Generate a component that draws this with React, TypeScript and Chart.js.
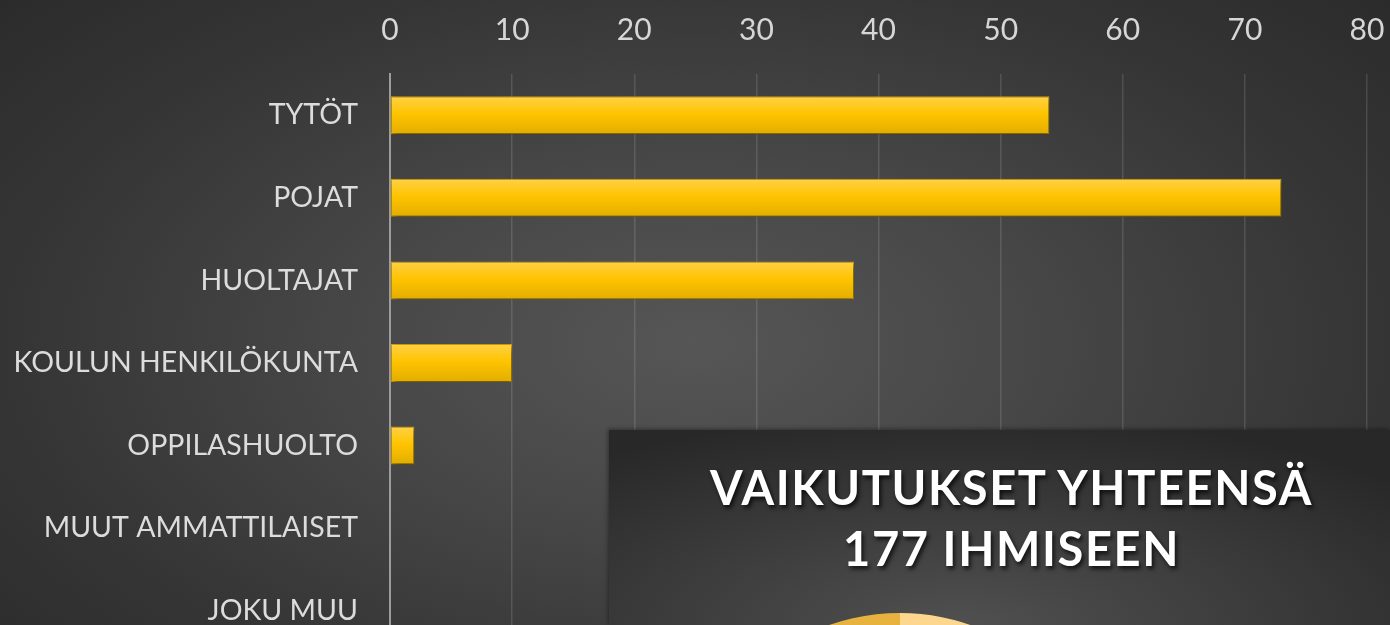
import React, { useEffect, useRef } from "react";
import { Chart, registerables } from "chart.js";

Chart.register(...registerables);

const categories = [
  "TYTÖT",
  "POJAT",
  "HUOLTAJAT",
  "KOULUN HENKILÖKUNTA",
  "OPPILASHUOLTO",
  "MUUT AMMATTILAISET",
  "JOKU MUU",
];
const values = [54, 73, 38, 10, 2, 0, 0];
const xMin = 0;
const xMax = 80;
const xStep = 10;

const titleLines = ["VAIKUTUKSET YHTEENSÄ", "177 IHMISEEN"];
const pieLabels = ["LAPSET", "AIKUISET"];
const pieValues = [127, 50];
const pieColors = ["#fdd78e", "#e7b23d"];

const FONT = "Lato, 'Open Sans', sans-serif";
const BAR_PCT = 0.46;

const barShadow = {
  id: "barShadow",
  beforeDatasetsDraw(chart: any) {
    const c = chart.ctx;
    c.save();
    c.shadowColor = "rgba(0,0,0,0.55)";
    c.shadowBlur = 6;
    c.shadowOffsetX = 2;
    c.shadowOffsetY = 3;
  },
  afterDatasetsDraw(chart: any) {
    chart.ctx.restore();
  },
};

function BarChart() {
  const ref = useRef<HTMLCanvasElement | null>(null);
  useEffect(() => {
    if (!ref.current) return;
    const chart = new Chart(ref.current, {
      type: "bar",
      data: {
        labels: categories,
        datasets: [
          {
            data: values,
            backgroundColor: (ctx: any) => {
              const ch = ctx.chart;
              const ys = ch.scales && ch.scales.y;
              if (!ys || ctx.type !== "data") return "#ffc400";
              const yc = ys.getPixelForValue(ctx.dataIndex);
              const band = (ys.bottom - ys.top) / categories.length;
              const h = band * BAR_PCT;
              if (!isFinite(yc) || !isFinite(h) || h <= 0) return "#ffc400";
              const g = ch.ctx.createLinearGradient(0, yc - h / 2, 0, yc + h / 2);
              g.addColorStop(0, "#ffd148");
              g.addColorStop(0.45, "#ffc400");
              g.addColorStop(1, "#e2ad00");
              return g;
            },
            borderColor: "#d8a500",
            borderWidth: 1,
            borderSkipped: false,
            categoryPercentage: 1,
            barPercentage: BAR_PCT,
          },
        ],
      },
      options: {
        indexAxis: "y",
        animation: false,
        responsive: false,
        maintainAspectRatio: false,
        layout: { padding: { top: 0, right: 0, bottom: 0, left: 0 } },
        plugins: { legend: { display: false }, tooltip: { enabled: false } },
        scales: {
          x: {
            position: "top",
            min: xMin,
            max: xMax,
            ticks: {
              stepSize: xStep,
              color: "#d6d6d6",
              padding: 26,
              font: { family: FONT, size: 30 },
            },
            grid: {
              drawTicks: false,
              color: "rgba(255,255,255,0.13)",
              lineWidth: 1.5,
            },
            border: { display: false },
            afterFit: (s: any) => {
              s.height = 74;
              s.paddingLeft = 0;
              s.paddingRight = 23;
            },
          },
          y: {
            ticks: {
              color: "#dcdcdc",
              padding: 32,
              font: { family: FONT, size: 28.5 },
            },
            grid: { display: false, drawTicks: false },
            border: { display: true, color: "#9c9c9c", width: 2 },
            afterFit: (s: any) => {
              s.width = 390;
              s.paddingTop = 0;
              s.paddingBottom = 0;
            },
          },
        },
      },
      plugins: [barShadow],
    });
    return () => chart.destroy();
  }, []);
  return <canvas ref={ref} width={1390} height={652} style={{ display: "block" }} />;
}

function PieChart() {
  const ref = useRef<HTMLCanvasElement | null>(null);
  useEffect(() => {
    if (!ref.current) return;
    const chart = new Chart(ref.current, {
      type: "pie",
      data: {
        labels: pieLabels,
        datasets: [{ data: pieValues, backgroundColor: pieColors, borderWidth: 0 }],
      },
      options: {
        animation: false,
        responsive: false,
        maintainAspectRatio: false,
        layout: { padding: 0 },
        plugins: { legend: { display: false }, tooltip: { enabled: false } },
      },
    });
    return () => chart.destroy();
  }, []);
  return <canvas ref={ref} width={430} height={430} style={{ display: "block" }} />;
}

export default function App() {
  return (
    <div
      style={{
        position: "absolute",
        left: 0,
        top: 0,
        width: 1390,
        height: 625,
        overflow: "hidden",
        background:
          "radial-gradient(ellipse 70% 85% at 50% 55%, #565656 0%, #474747 35%, #353535 70%, #2a2a2a 100%)",
      }}
    >
      <BarChart />
      <div
        style={{
          position: "absolute",
          left: 609,
          top: 430,
          width: 781,
          height: 195,
          overflow: "hidden",
          background:
            "radial-gradient(ellipse 75% 110% at 45% 100%, #505050 0%, #3c3c3c 50%, #282828 100%)",
          boxShadow: "-1px -1px 4px rgba(0,0,0,0.4)",
        }}
      >
        <div
          style={{
            position: "absolute",
            left: 12,
            top: 27,
            width: 781,
            textAlign: "center",
            color: "#ffffff",
            fontFamily: FONT,
            fontWeight: 700,
            fontSize: 47,
            lineHeight: "61px",
            letterSpacing: "1.6px",
            textShadow: "2px 3px 4px rgba(0,0,0,0.75)",
          }}
        >
          <div>{titleLines[0]}</div>
          <div>{titleLines[1]}</div>
        </div>
        <div style={{ position: "absolute", left: 291 - 215, top: 183 }}>
          <PieChart />
        </div>
      </div>
    </div>
  );
}
